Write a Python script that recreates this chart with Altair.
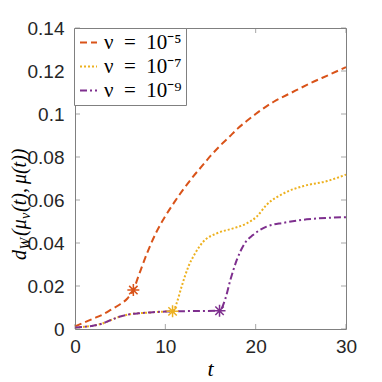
import altair as alt
import pandas as pd

# ---- data -----------------------------------------------------------------
names = ["ν\u2002=\u200210⁻⁵", "ν\u2002=\u200210⁻⁷", "ν\u2002=\u200210⁻⁹"]
colors = ["#D95319", "#EDB120", "#7E2F8E"]
dashes = [[7, 4], [2, 2], [7, 3, 2, 3]]

t_a = [0, 1, 2, 3, 4, 5, 5.8, 6.46, 7.0, 8.0, 9.0, 10.0, 11.0, 12.0, 13.0, 14.0,
       15.0, 16.0, 17.0, 18.0, 19.0, 20.0, 22.0, 24.0, 26.0, 28.0, 30.0]
v_a = [0.0012, 0.0030, 0.0048, 0.0066, 0.0090, 0.0115, 0.0142, 0.0181, 0.0243,
       0.0355, 0.0450, 0.0525, 0.0590, 0.0650, 0.0705, 0.0755, 0.0805, 0.0850,
       0.0890, 0.0932, 0.0967, 0.1000, 0.1057, 0.1100, 0.1142, 0.1180, 0.1218]

t_b = [0, 1, 2, 3, 4, 5, 6, 7, 8, 9, 10, 10.8, 11.25, 11.8, 12.55, 13.3, 14.2,
       15.7, 17.5, 19.0, 20.1, 21.2, 23.1, 25.3, 27.9, 30]
v_b = [0.0007, 0.0010, 0.0015, 0.0025, 0.0042, 0.0058, 0.0068, 0.0073, 0.0076,
       0.0079, 0.0081, 0.0082, 0.0120, 0.0197, 0.0290, 0.0352, 0.0406, 0.0445,
       0.0468, 0.0491, 0.0522, 0.0577, 0.0631, 0.0665, 0.0688, 0.0718]

t_c = [0, 1, 2, 3, 4, 5, 6, 7, 8, 9, 10, 12, 14, 16.0, 16.6, 17.2, 17.9, 18.8,
       19.7, 21.2, 23.1, 25.65, 30]
v_c = [0.0007, 0.0010, 0.0015, 0.0025, 0.0042, 0.0058, 0.0068, 0.0073, 0.0076,
       0.0079, 0.0081, 0.0083, 0.0084, 0.0085, 0.0135, 0.0228, 0.0320, 0.0399,
       0.0437, 0.0476, 0.0494, 0.0510, 0.0520]

star_t = [6.46, 10.8, 16.0]
star_v = [0.0181, 0.0082, 0.0085]

x_ticks = [0, 10, 20, 30]
y_ticks = [0, 0.02, 0.04, 0.06, 0.08, 0.1, 0.12, 0.14]

# ---- tables ---------------------------------------------------------------
rows = []
for name, ts, vs in zip(names, [t_a, t_b, t_c], [v_a, v_b, v_c]):
    for t, v in zip(ts, vs):
        rows.append({"t": t, "v": v, "s": name})
df = pd.DataFrame(rows)
stars = pd.DataFrame({"t": star_t, "v": star_v, "c": colors})

W, H = 271, 301
frame = "#808080"
lab_col = "#262626"
sans = "Liberation Sans"
serif = "Liberation Serif"

xs = alt.Scale(domain=[0, 30], nice=False, zero=False)
ys = alt.Scale(domain=[0, 0.14], nice=False, zero=False)

x_axis = alt.Axis(values=x_ticks, format="d", tickSize=0, domain=False, grid=False,
                  labelPadding=8, labelFlush=False, title=None, labelFont=sans,
                  labelFontSize=19, labelColor=lab_col)
y_axis = alt.Axis(values=y_ticks, format="~g", tickSize=0, domain=False, grid=False,
                  labelPadding=11, labelFlush=False, title=None, labelFont=sans,
                  labelFontSize=19, labelColor=lab_col)


def X():
    return alt.X("t:Q", scale=xs, axis=x_axis)


def Y():
    return alt.Y("v:Q", scale=ys, axis=y_axis)


leg = alt.Legend(title=None, orient="none", legendX=-1, legendY=0, strokeColor=frame,
                 fillColor="white", padding=4, rowPadding=2, symbolType="stroke",
                 symbolSize=289, symbolStrokeWidth=2, labelFont=serif,
                 labelFontSize=21, labelColor="black", labelOffset=5, labelLimit=300)

lines = alt.Chart(df).mark_line(strokeWidth=2, interpolate="monotone").encode(
    x=X(), y=Y(),
    color=alt.Color("s:N", scale=alt.Scale(domain=names, range=colors), sort=names, legend=leg),
    strokeDash=alt.StrokeDash("s:N", scale=alt.Scale(domain=names, range=dashes), sort=names, legend=leg),
    order=alt.Order("t:Q"),
)

star_path = "M-1,0L1,0M0,-1L0,1M-0.7,-0.7L0.7,0.7M-0.7,0.7L0.7,-0.7"
star_layer = alt.Chart(stars).mark_point(shape=star_path, filled=False, size=144,
                                         strokeWidth=1.5, opacity=1).encode(
    x=X(), y=Y(),
    color=alt.Color("c:N", scale=None),
)

xt = alt.Chart(pd.DataFrame({"t": x_ticks}))
yt = alt.Chart(pd.DataFrame({"v": y_ticks}))
tick_kw = dict(size=5, thickness=1, color=frame)
ticks_b = xt.mark_tick(orient="vertical", **tick_kw).encode(x=X(), y=alt.value(H - 2.5))
ticks_t = xt.mark_tick(orient="vertical", **tick_kw).encode(x=X(), y=alt.value(2.5))
ticks_l = yt.mark_tick(orient="horizontal", **tick_kw).encode(y=Y(), x=alt.value(2.5))
ticks_r = yt.mark_tick(orient="horizontal", **tick_kw).encode(y=Y(), x=alt.value(W - 2.5))


def txt(s, x, y, size, angle=0, align="left", style="italic"):
    return alt.Chart(pd.DataFrame({"a": [0]})).mark_text(
        font=serif, fontSize=size, fontStyle=style, angle=angle, align=align,
        baseline="alphabetic", color="black").encode(
        x=alt.value(x), y=alt.value(y), text=alt.value(s))


# y title pieces: d_W(mu_nu(t), mu(t)) rotated
y0 = 232
bx = -49
title_parts = [
    txt("d", bx, y0, 20, 270),
    txt("W", bx + 4, y0 - 10.5, 14, 270),
    txt("(μ", bx, y0 - 24, 20, 270),
    txt("ν", bx + 4, y0 - 41, 14, 270),
    txt("(t),\u2009μ(t))", bx, y0 - 48, 20, 270),
]
x_title = txt("t", W / 2, 348, 22, 0, "center")

chart = alt.layer(lines, star_layer, ticks_b, ticks_t, ticks_l, ticks_r,
                  *title_parts, x_title).properties(
    width=W, height=H,
    autosize=alt.AutoSizeParams(type="none"),
    padding={"left": 67, "top": 20, "right": 28, "bottom": 53},
).configure_view(stroke=frame, strokeWidth=1)

chart.save("out.html", embed_options={"renderer": "svg", "actions": False})
